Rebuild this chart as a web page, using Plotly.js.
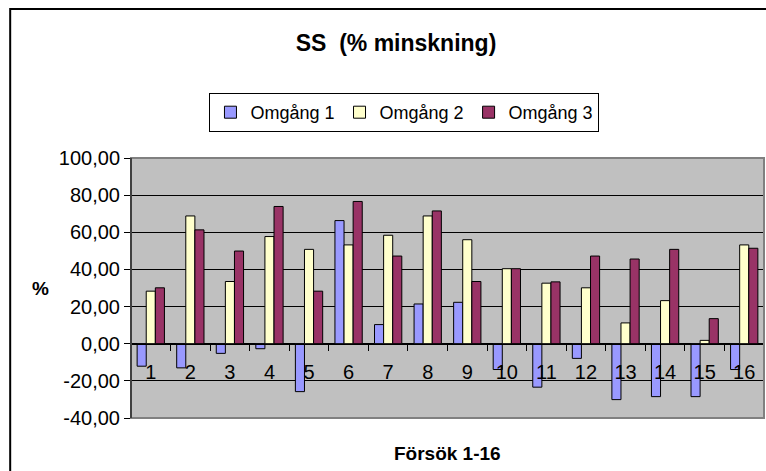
<!DOCTYPE html>
<html>
<head>
<meta charset="utf-8">
<script src="https://cdn.plot.ly/plotly-3.0.1.min.js"></script>
<style>
html,body{margin:0;padding:0;background:#fff;}
#chart{width:766px;height:471px;}
</style>
</head>
<body>
<div id="chart"></div>
<script>
var categories = ['1','2','3','4','5','6','7','8','9','10','11','12','13','14','15','16'];
var seriesNames = ['Omgång 1','Omgång 2','Omgång 3'];
var omgang1 = [-12.1, -13.0, -5.2, -2.7, -25.8, 66.3, 10.3, 21.4, 22.3, -13.9, -23.4, -7.9, -30.1, -28.5, -28.5, -13.9];
var omgang2 = [28.3, 68.8, 33.5, 57.7, 50.8, 53.2, 58.4, 68.8, 56.0, 40.4, 32.6, 30.1, 11.2, 23.2, 1.8, 53.2];
var omgang3 = [30.1, 61.3, 49.9, 73.9, 28.3, 76.6, 47.2, 71.5, 33.5, 40.4, 33.3, 47.2, 45.6, 50.8, 13.5, 51.4];
var yTickVals = [-40, -20, 0, 20, 40, 60, 80, 100];
var yTickLabels = ['-40,00', '-20,00', '0,00', '20,00', '40,00', '60,00', '80,00', '100,00'];
var chartTitle = 'SS  (% minskning)';
var xTitle = 'Försök 1-16';
var yTitle = '%';

var colors = ['#9999ff', '#ffffcc', '#993366'];
var values = [omgang1, omgang2, omgang3];
var font = 'Arial, "Liberation Sans", sans-serif';

var traces = values.map(function (v, i) {
  return {
    type: 'bar',
    name: seriesNames[i],
    x: categories,
    y: v,
    marker: {color: colors[i], line: {color: '#000', width: 1}},
    hoverinfo: 'x+y+name'
  };
});

var yMin = -40, yMax = 100;
var zeroPos = (0 - yMin) / (yMax - yMin);

var layout = {
  width: 766, height: 471,
  margin: {l: 131, r: 2, t: 158, b: 53},
  paper_bgcolor: '#ffffff',
  plot_bgcolor: '#c0c0c0',
  barmode: 'group',
  bargap: 0.31,
  bargroupgap: 0,
  font: {family: font, color: '#000'},
  showlegend: true,
  title: {
    text: '<b>' + chartTitle + '</b>',
    font: {family: font, size: 23, color: '#000'},
    x: 396 / 766, xref: 'container', xanchor: 'center',
    y: 1 - 43 / 471, yref: 'container', yanchor: 'middle'
  },
  legend: {
    orientation: 'h',
    x: 0.432, xanchor: 'center',
    y: 1.25, yanchor: 'top',
    bgcolor: '#ffffff',
    bordercolor: '#000', borderwidth: 1,
    font: {family: font, size: 18, color: '#000'},
    itemwidth: 30,
    traceorder: 'normal'
  },
  xaxis: {
    type: 'category',
    anchor: 'free',
    position: zeroPos,
    showline: true, linecolor: '#000', linewidth: 1,
    ticks: 'outside', ticklen: 6, tickcolor: '#000', tickson: 'boundaries',
    tickfont: {family: font, size: 20, color: '#000'},
    ticklabelstandoff: 10,
    showgrid: false, zeroline: false,
    fixedrange: true
  },
  yaxis: {
    range: [yMin, yMax],
    tickvals: yTickVals, ticktext: yTickLabels,
    ticks: 'outside', ticklen: 6, tickcolor: '#000',
    tickfont: {family: font, size: 20, color: '#000'},
    showline: true, linecolor: '#000', linewidth: 1,
    showgrid: true, gridcolor: '#000', gridwidth: 1,
    zeroline: false,
    fixedrange: true
  },
  annotations: [
    {text: '<b>' + yTitle + '</b>', xref: 'paper', yref: 'paper', x: (40 - 131) / 634, y: 0.5,
     xanchor: 'center', yanchor: 'middle', showarrow: false, font: {family: font, size: 19, color: '#000'}},
    {text: '<b>' + xTitle + '</b>', xref: 'paper', yref: 'paper', x: 0.5, y: (418 - 453) / 260,
     xanchor: 'center', yanchor: 'middle', showarrow: false, font: {family: font, size: 19, color: '#000'}}
  ],
  shapes: [
    {type: 'rect', xref: 'paper', yref: 'paper', x0: 0, x1: 1, y0: 0, y1: 1,
     line: {color: '#808080', width: 2}, layer: 'above'},
    {type: 'line', xref: 'paper', yref: 'paper', x0: 0, x1: 0, y0: 0, y1: 1,
     line: {color: '#000', width: 1}, layer: 'above'},
    {type: 'rect', xref: 'paper', yref: 'paper', x0: (10 - 131) / 634, x1: 1.3, y0: -0.6, y1: 1 + (158 - 9) / 260,
     line: {color: '#000', width: 2}, layer: 'below'}
  ]
};

Plotly.newPlot('chart', traces, layout, {displayModeBar: false, staticPlot: true});
</script>
</body>
</html>
